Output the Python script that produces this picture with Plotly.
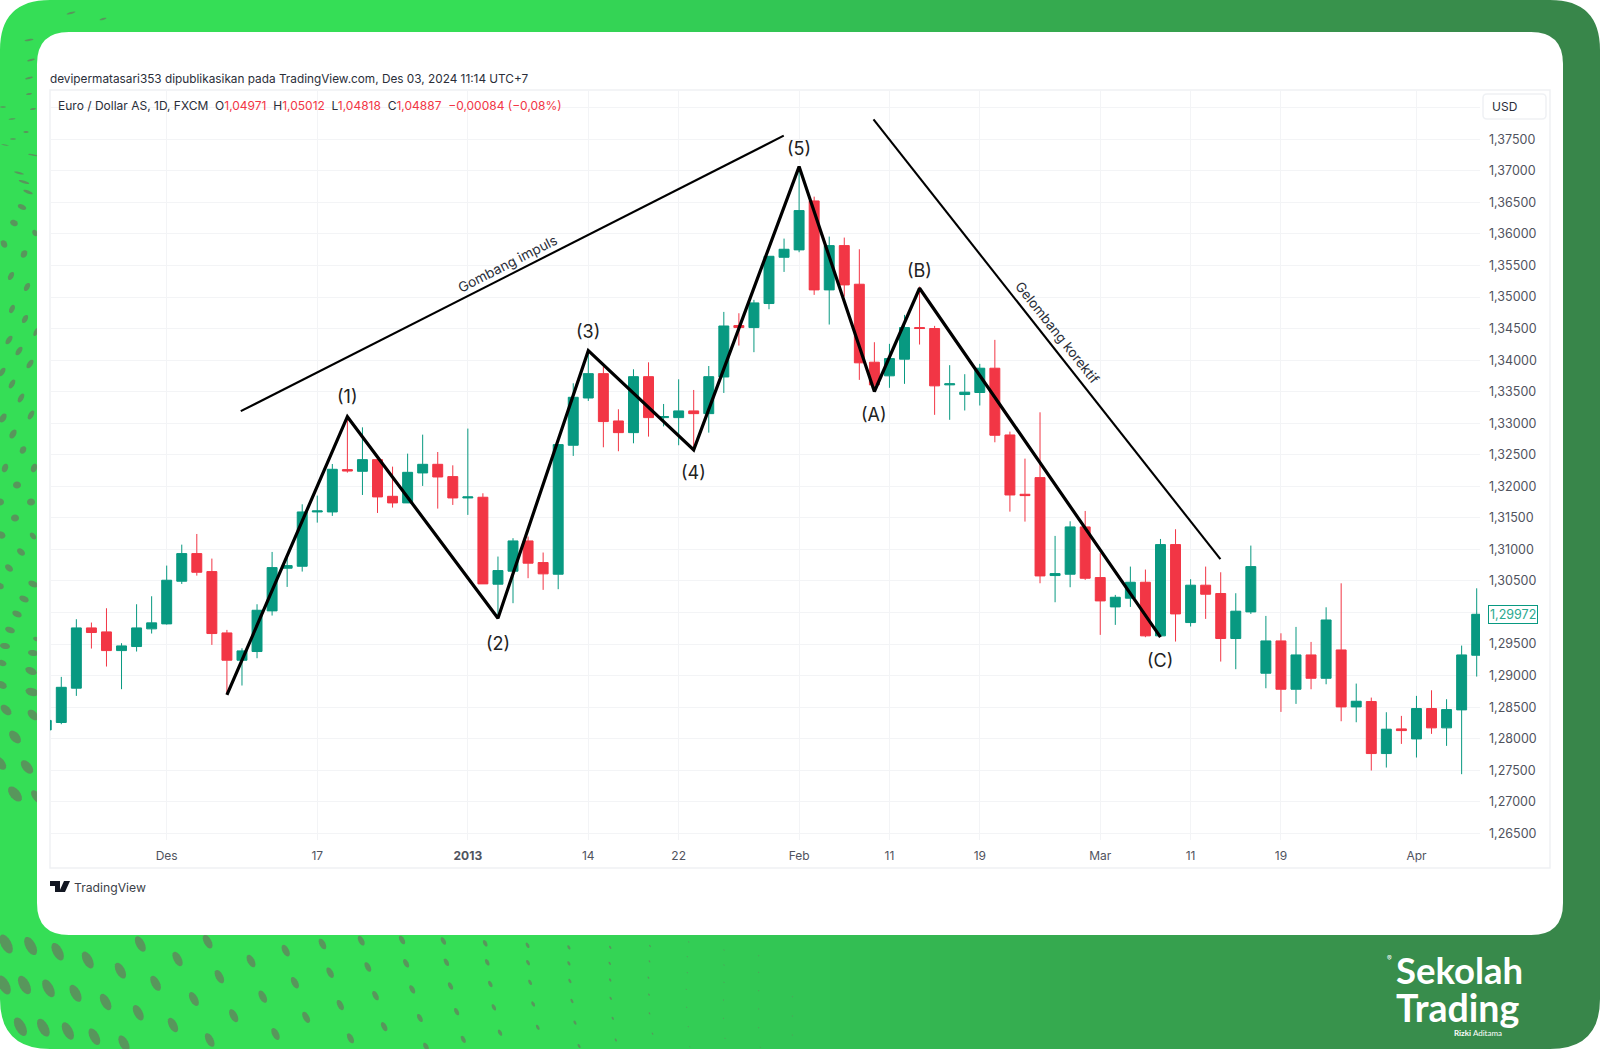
import math

import plotly.graph_objects as go

W, H = 1600, 1049

# EURUSD daily candles, left to right
day_index = list(range(-1, 95))
opens = [1.2814, 1.28257, 1.28801, 1.29756, 1.29693, 1.29397, 1.29461, 1.29741, 1.2982, 1.30496, 1.30934, 1.30649, 1.29677, 1.29244, 1.29382, 1.30026,
         1.30702, 1.30733, 1.31594, 1.31594, 1.32265, 1.32238, 1.32423, 1.31842, 1.31737, 1.32212, 1.32349, 1.32154, 1.31816, 1.31827, 1.30449, 1.30655,
         1.31135, 1.30792, 1.30607, 1.32651, 1.334, 1.33786, 1.33036, 1.32851, 1.33738, 1.33089, 1.33089, 1.33195, 1.33152, 1.33733, 1.34548, 1.34516,
         1.34897, 1.3563, 1.35747, 1.36523, 1.35113, 1.35815, 1.35203, 1.33967, 1.33751, 1.34015, 1.34516, 1.34501, 1.33608, 1.33455, 1.33487, 1.33872,
         1.32814, 1.31874, 1.32138, 1.30586, 1.30607, 1.31357, 1.30554, 1.30089, 1.30227, 1.3048, 1.2963, 1.31077, 1.29841, 1.30433, 1.30301, 1.29588,
         1.3001, 1.29038, 1.2955, 1.28784, 1.29328, 1.28958, 1.29407, 1.28504, 1.28589, 1.27765, 1.28156, 1.27997, 1.28478, 1.28172, 1.28457, 1.29323]
highs = [1.2835, 1.2898, 1.29894, 1.29841, 1.30068, 1.29514, 1.30131, 1.30258, 1.30744, 1.31076, 1.31245, 1.30855, 1.29725, 1.29434, 1.30131, 1.3096,
         1.30886, 1.31715, 1.31853, 1.32354, 1.331, 1.32935, 1.32497, 1.32312, 1.32518, 1.32819, 1.32544, 1.32333, 1.32915, 1.3189, 1.30887, 1.31178,
         1.31204, 1.30951, 1.32661, 1.33633, 1.34108, 1.33897, 1.33221, 1.33855, 1.33965, 1.33305, 1.33696, 1.33527, 1.33907, 1.34764, 1.34743, 1.34955,
         1.3565, 1.35926, 1.37014, 1.36591, 1.35958, 1.35942, 1.35757, 1.34284, 1.34258, 1.34717, 1.35166, 1.34543, 1.3392, 1.33777, 1.33941, 1.34321,
         1.32867, 1.32439, 1.33173, 1.31214, 1.31446, 1.3161, 1.30939, 1.30279, 1.30728, 1.30681, 1.31166, 1.3132, 1.30528, 1.30728, 1.30638, 1.30306,
         1.31061, 1.29946, 1.29671, 1.29772, 1.29534, 1.30083, 1.30463, 1.28874, 1.28652, 1.2842, 1.28362, 1.28679, 1.28768, 1.28626, 1.29476, 1.30384]
lows = [1.2806, 1.2823, 1.28679, 1.29429, 1.29144, 1.28785, 1.29382, 1.29667, 1.29809, 1.30453, 1.30585, 1.29487, 1.28722, 1.28843, 1.29276, 1.29952,
        1.30406, 1.30649, 1.31425, 1.31531, 1.32217, 1.31863, 1.31578, 1.31663, 1.31737, 1.32006, 1.31647, 1.31705, 1.31547, 1.30454, 1.2991, 1.30148,
        1.30544, 1.30359, 1.3037, 1.32482, 1.33353, 1.32619, 1.32556, 1.32682, 1.32788, 1.3295, 1.32651, 1.32566, 1.32851, 1.3348, 1.34231, 1.34126,
        1.34807, 1.35398, 1.3571, 1.35034, 1.34564, 1.35007, 1.33687, 1.33503, 1.33561, 1.33624, 1.34247, 1.33133, 1.33054, 1.33202, 1.33281, 1.32698,
        1.31599, 1.31441, 1.30464, 1.30163, 1.30401, 1.30517, 1.29646, 1.29804, 1.30089, 1.29609, 1.2962, 1.2954, 1.29778, 1.29899, 1.29223, 1.29102,
        1.29978, 1.288, 1.28425, 1.28552, 1.28784, 1.28863, 1.28277, 1.28261, 1.27496, 1.27543, 1.27918, 1.27702, 1.28077, 1.27887, 1.27438, 1.28985]
closes = [1.2829, 1.28815, 1.29756, 1.29683, 1.29397, 1.29471, 1.29756, 1.29836, 1.30512, 1.30934, 1.30638, 1.29667, 1.29244, 1.29392, 1.30036, 1.30712,
          1.30744, 1.31594, 1.3161, 1.3227, 1.32243, 1.32423, 1.31832, 1.31737, 1.32222, 1.32349, 1.32148, 1.31816, 1.31832, 1.30454, 1.30665, 1.31135,
          1.30782, 1.30613, 1.32661, 1.33411, 1.33786, 1.33026, 1.32851, 1.33738, 1.33089, 1.33105, 1.33195, 1.33152, 1.33738, 1.34541, 1.34516, 1.34907,
          1.35646, 1.35757, 1.3637, 1.35113, 1.35815, 1.35192, 1.33957, 1.33608, 1.34025, 1.34516, 1.34501, 1.33592, 1.33624, 1.33492, 1.33872, 1.32809,
          1.31863, 1.31853, 1.3058, 1.30617, 1.31357, 1.30543, 1.30184, 1.30242, 1.3048, 1.2963, 1.31077, 1.29978, 1.30433, 1.3029, 1.29588, 1.30021,
          1.30728, 1.2955, 1.28784, 1.29328, 1.28958, 1.29882, 1.28504, 1.28594, 1.27765, 1.28151, 1.28129, 1.28478, 1.28172, 1.28462, 1.29328, 1.29972]

# elliott wave pivots
wave_x = [11, 19, 29, 35, 42, 49, 54, 57, 73]
wave_y = [1.28695, 1.33104, 1.2991, 1.3415, 1.32577, 1.37067, 1.33503, 1.35139, 1.29609]
wave_labels = ["", "(1)", "(2)", "(3)", "(4)", "(5)", "(A)", "(B)", "(C)"]
label_shift = [0, 20, -25, 19, -23, 18, -23, 18, -23]

impulse_x = [11.92, 47.98]
impulse_y = [1.33191, 1.37557]
corrective_x = [53.94, 76.98]
corrective_y = [1.37815, 1.30846]

date_ticks = [7, 17, 27, 35, 41, 49, 55, 61, 69, 75, 81, 90]
date_labels = ["Des", "17", "<b>2013</b>", "14", "22", "Feb", "11", "19", "Mar", "11", "19", "Apr"]
price_ticks = [1.265, 1.27, 1.275, 1.28, 1.285, 1.29, 1.295, 1.3, 1.305, 1.31, 1.315, 1.32, 1.325,
               1.33, 1.335, 1.34, 1.345, 1.35, 1.355, 1.36, 1.365, 1.37, 1.375, 1.38]
price_labels = ["1,26500", "1,27000", "1,27500", "1,28000", "1,28500", "1,29000", "1,29500", "1,30000",
                "1,30500", "1,31000", "1,31500", "1,32000", "1,32500", "1,33000", "1,33500", "1,34000",
                "1,34500", "1,35000", "1,35500", "1,36000", "1,36500", "1,37000", "1,37500", ""]

UP = "#089981"
DOWN = "#F23645"
TEXT = "#2a2e39"
AXIS_TEXT = "#50535e"
FONT = "Inter"

# halftone dots on the green frame, as rough pixel spots
bottom_rows = [
    [(12, 42), (60, 48), (113, 65), (172, 90), (236, 122), (305, 160), (380, 207), (458, 257), (540, 312)],
    [(8, 165), (48, 165), (95, 175), (148, 190), (207, 216), (271, 248), (339, 285), (411, 330)],
    [(40, 290), (85, 293), (133, 303), (185, 320), (243, 340)],
    [(275, 42), (348, 87), (430, 140), (515, 200), (600, 262), (687, 325)],
    [(407, 35), (492, 93), (578, 158), (667, 225), (753, 290), (835, 350)],
    [(560, 62), (647, 128), (736, 197), (823, 264), (908, 328)],
    [(632, 42), (721, 111), (808, 178), (895, 245), (980, 308)],
    [(708, 32), (796, 100), (883, 168), (968, 232), (1054, 292), (1135, 348)],
    [(788, 30), (875, 97), (961, 162), (1045, 222), (1127, 278), (1207, 330)],
    [(869, 33), (955, 97), (1039, 157), (1121, 213), (1201, 265), (1279, 311), (1352, 350)],
    [(951, 40), (1035, 98), (1117, 153), (1197, 205), (1273, 250), (1349, 290), (1421, 325), (1490, 352)],
    [(1034, 46), (1115, 100), (1196, 150), (1272, 194), (1346, 232), (1418, 265), (1487, 293), (1553, 315)],
    [(1115, 52), (1195, 100), (1271, 143), (1345, 178), (1418, 210), (1487, 237), (1553, 258)],
    [(1196, 52), (1273, 94), (1347, 128), (1419, 157), (1487, 182), (1553, 200)],
    [(1274, 48), (1347, 80), (1419, 105), (1487, 127)],
    [(1350, 36), (1419, 60), (1487, 77)],
]
# x, y, long axis, short axis, tilt in degrees
left_dots = [
    (71, 13, 9, 2, -15), (103, 19, 7, 2, -15), (29, 40, 9, 2, -10), (31, 60, 8, 2, -15), (29, 78, 8, 2, -15),
    (29, 94, 6, 2, -10), (3, 107, 6, 1.5, 0), (33, 109, 6, 2, -10), (12, 119, 7, 1.5, -5), (26, 132, 5, 2, 0),
    (13, 139, 6, 1.5, 0), (5, 145, 8, 1, 10), (33, 155, 10, 1.5, 10), (19, 173, 10, 2, 15), (24, 182, 11, 2.5, 18),
    (28, 192, 10, 3, 22), (22, 207, 9, 5, 25), (14, 223, 8, 6, 30), (35, 233, 7, 5, 60), (4, 244, 8, 6, 60),
    (24, 254, 8, 6, -60), (11, 276, 9, 5, -60), (27, 287, 9, 5, -60),
    (12, 309, 9, 5, -65), (25, 319, 9, 5, -60), (36, 332, 9, 4, -65), (9, 340, 10, 5, -55), (19, 351, 10, 5, -55),
    (30, 364, 10, 5, -55), (2, 372, 10, 5, -55), (12, 384, 10, 5, -60), (21, 398, 10, 5, -60), (31, 415, 10, 5, -60),
    (3, 418, 10, 6, -60), (13, 434, 10, 6, -60), (23, 450, 8, 6, -60), (34, 468, 9, 6, -70), (5, 468, 9, 6, -70),
    (17, 485, 8, 7, 0), (31, 502, 8, 7, 0), (0, 502, 8, 7, 0), (15, 518, 8, 7, 0), (33, 536, 8, 5, 50),
    (1, 535, 9, 7, 20), (21, 552, 9, 6, 40), (9, 568, 9, 6, 40), (0, 586, 8, 6, 30), (33, 584, 10, 6, 25),
    (24, 599, 10, 6, 25), (17, 614, 10, 6, 25), (10, 630, 10, 6, 20), (36, 639, 6, 4, 20), (5, 646, 10, 6, 10),
    (33, 653, 10, 6, 10), (2, 663, 9, 6, 20), (31, 671, 12, 7, 25), (2, 685, 10, 7, 30), (32, 692, 13, 8, 15),
    (6, 710, 13, 8, 45), (33, 715, 13, 8, 45), (15, 737, 15, 9, 50), (0, 763, 16, 9, 50), (27, 767, 16, 9, 50),
    (15, 794, 18, 10, 50), (37, 797, 16, 8, 50),
]

GREEN_STOPS = [(0, (53, 222, 86)), (500, (53, 222, 86)), (800, (50, 196, 84)),
               (1100, (54, 166, 78)), (1400, (56, 142, 76)), (1600, (56, 133, 74))]


def px(x, y):
    return x / W, 1 - y / H


def green_at(x):
    for (x0, c0), (x1, c1) in zip(GREEN_STOPS, GREEN_STOPS[1:]):
        if x <= x1:
            t = (x - x0) / (x1 - x0)
            return "rgb(%d,%d,%d)" % tuple(round(a + (b - a) * t) for a, b in zip(c0, c1))
    return "rgb(56,133,74)"


def rect(x0, y0, x1, y1, **kw):
    a, b = px(x0, y0)
    c, d = px(x1, y1)
    return dict(type="rect", xref="paper", yref="paper", x0=a, y0=b, x1=c, y1=d, layer="below", **kw)


def path(d, **kw):
    # d is a list of (command, x, y, ...) in pixels
    out = ""
    for seg in d:
        out += seg[0]
        pts = seg[1:]
        for i in range(0, len(pts), 2):
            a, b = px(pts[i], pts[i + 1])
            out += " %.5f,%.5f " % (a, b)
    return dict(type="path", xref="paper", yref="paper", path=out + "Z", layer="below", **kw)


def round_rect(x0, y0, x1, y1, r, **kw):
    return path([("M", x0 + r, y0), ("L", x1 - r, y0), ("Q", x1, y0, x1, y0 + r), ("L", x1, y1 - r),
                 ("Q", x1, y1, x1 - r, y1), ("L", x0 + r, y1), ("Q", x0, y1, x0, y1 - r), ("L", x0, y0 + r),
                 ("Q", x0, y0, x0 + r, y0)], **kw)


def ellipse(cx, cy, a, b, deg, color):
    # polygon ellipse so it can be tilted
    t = math.radians(deg)
    segs = []
    for k in range(16):
        u = 2 * math.pi * k / 16
        ex, ey = a / 2 * math.cos(u), b / 2 * math.sin(u)
        segs.append(("L" if k else "M", cx + ex * math.cos(t) - ey * math.sin(t), cy + ex * math.sin(t) + ey * math.cos(t)))
    return path(segs, fillcolor=color, line_width=0)


shapes = []
for x in range(0, W, 10):
    shapes.append(rect(x, 0, x + 11, H, fillcolor=green_at(x + 5), line_width=0))

DOT = "rgb(88,150,92)"
for row in bottom_rows:
    for zx, zy in row:
        x = zx / 1.96
        y = 930 + zy / 3
        long_axis = max(1.5, 21 - 0.0145 * zx)
        shapes.append(ellipse(x, y, long_axis, long_axis * 0.5, 62, DOT))
for x, y, a, b, deg in left_dots:
    shapes.append(ellipse(x, y, a, b, deg, DOT))

# outer rounded corners
R = 50
for cx, cy, sx, sy in [(0, 0, 1, 1), (W, 0, -1, 1), (W, H, -1, -1), (0, H, 1, -1)]:
    shapes.append(path([("M", cx, cy), ("L", cx + sx * R, cy), ("Q", cx, cy, cx, cy + sy * R)], fillcolor="white", line_width=0))

# white card and chart frame
shapes.append(round_rect(37, 32, 1563, 935, 32, fillcolor="white", line_width=0))
shapes.append(rect(50, 90, 1550, 868, line=dict(color="#eff1f4", width=1.5)))
shapes.append(round_rect(1483, 94, 1546, 119, 4, fillcolor="white", line=dict(color="#eff1f4", width=1.5)))

# tradingview logo
shapes.append(path([("M", 50, 881), ("L", 60, 881), ("L", 60, 892), ("L", 55, 892), ("L", 55, 886), ("L", 50, 886)], fillcolor="#131722", line_width=0))
shapes.append(path([("M", 64, 881), ("L", 70, 881), ("L", 65, 892), ("L", 59, 892)], fillcolor="#131722", line_width=0))

fig = go.Figure()
fig.add_trace(go.Candlestick(
    x=day_index, open=opens, high=highs, low=lows, close=closes,
    increasing=dict(line=dict(color=UP, width=1), fillcolor=UP),
    decreasing=dict(line=dict(color=DOWN, width=1), fillcolor=DOWN),
    whiskerwidth=0, showlegend=False,
))
fig.add_trace(go.Scatter(x=wave_x, y=wave_y, mode="lines", line=dict(color="black", width=3.2), showlegend=False))
fig.add_trace(go.Scatter(x=impulse_x, y=impulse_y, mode="lines", line=dict(color="black", width=2.1), showlegend=False))
fig.add_trace(go.Scatter(x=corrective_x, y=corrective_y, mode="lines", line=dict(color="black", width=2.1), showlegend=False))

notes = []


def note(x, y, text, size=12, color=TEXT, anchor="left", **kw):
    a, b = px(x, y)
    notes.append(dict(x=a, y=b, xref="paper", yref="paper", text=text, showarrow=False, xanchor=anchor, yanchor="middle",
                      font=dict(family=kw.pop("family", FONT), size=size, color=color), **kw))


for x, y, label, shift in zip(wave_x, wave_y, wave_labels, label_shift):
    if label:
        notes.append(dict(x=x, y=y, text=label, showarrow=False, yshift=shift, xanchor="center", yanchor="middle",
                          font=dict(family=FONT, size=18, color="#222222")))

note(507, 264, "Gombang impuls", 13.7, anchor="center", textangle=-27)
note(1057, 332, "Gelombang korektif", 13.5, anchor="center", textangle=51.5)
note(48, 79, "devipermatasari353 dipublikasikan pada TradingView.com, Des 03, 2024 11:14 UTC+7", 11.8)

red = '<span style="color:%s">%%s</span>' % DOWN
gap = "\u00a0\u00a0"
legend_text = ("Euro / Dollar AS, 1D, FXCM" + gap + "O" + red % "1,04971" + gap + "H" + red % "1,05012" + gap + "L" + red % "1,04818"
               + gap + "C" + red % "1,04887" + gap + red % "−0,00084 (−0,08%)")
note(55.5, 105.5, legend_text, 12)
note(1490, 106, "USD", 12)
note(72, 887, "TradingView", 12.2, color="#3c3f48")

# last price tag
notes.append(dict(x=1513 / W, y=closes[-1], xref="paper", yref="y", text="1,29972", showarrow=False, xanchor="center",
                  yanchor="middle", font=dict(family=FONT, size=12.5, color="#2aa98f"), bgcolor="white", bordercolor=UP,
                  borderwidth=1, borderpad=1))

# logo text
note(1394, 970, "<b>Sekolah</b>", 36.5, color="white", family="Lato")
note(1394, 1007, "<b>Trading</b>", 37.5, color="white", family="Lato")
note(1452, 1033, "<b>Rizki</b> Aditama", 8, color="white", family="Lato")
note(1389, 958, "®", 7, color="white", anchor="center")

fig.update_layout(
    width=W, height=H, margin=dict(l=0, r=0, t=0, b=0, pad=0), autosize=False,
    paper_bgcolor="white", plot_bgcolor="rgba(0,0,0,0)",
    shapes=shapes, annotations=notes, showlegend=False, boxgap=0.34, boxgroupgap=0,
    font=dict(family=FONT, color=AXIS_TEXT),
    xaxis=dict(domain=[50 / W, 1480 / W], range=[-0.75, 94.22], rangeslider=dict(visible=False),
               tickmode="array", tickvals=date_ticks, ticktext=date_labels, tickfont=dict(size=12, color=AXIS_TEXT),
               showgrid=True, gridcolor="#f3f4f6", gridwidth=1, zeroline=False, showline=False, ticks="",
               ticklabelstandoff=7),
    yaxis=dict(domain=[1 - 840 / H, 1 - 90 / H], range=[1.26395, 1.38281], side="right",
               tickmode="array", tickvals=price_ticks, ticktext=price_labels, tickfont=dict(size=12.5, color=AXIS_TEXT),
               showgrid=True, gridcolor="#f3f4f6", gridwidth=1, zeroline=False, showline=False, ticks="",
               ticklabelstandoff=8),
)

fig.write_html("out.html", post_script="document.body.style.margin='0';document.body.style.overflow='hidden';",
               config=dict(displayModeBar=False))
